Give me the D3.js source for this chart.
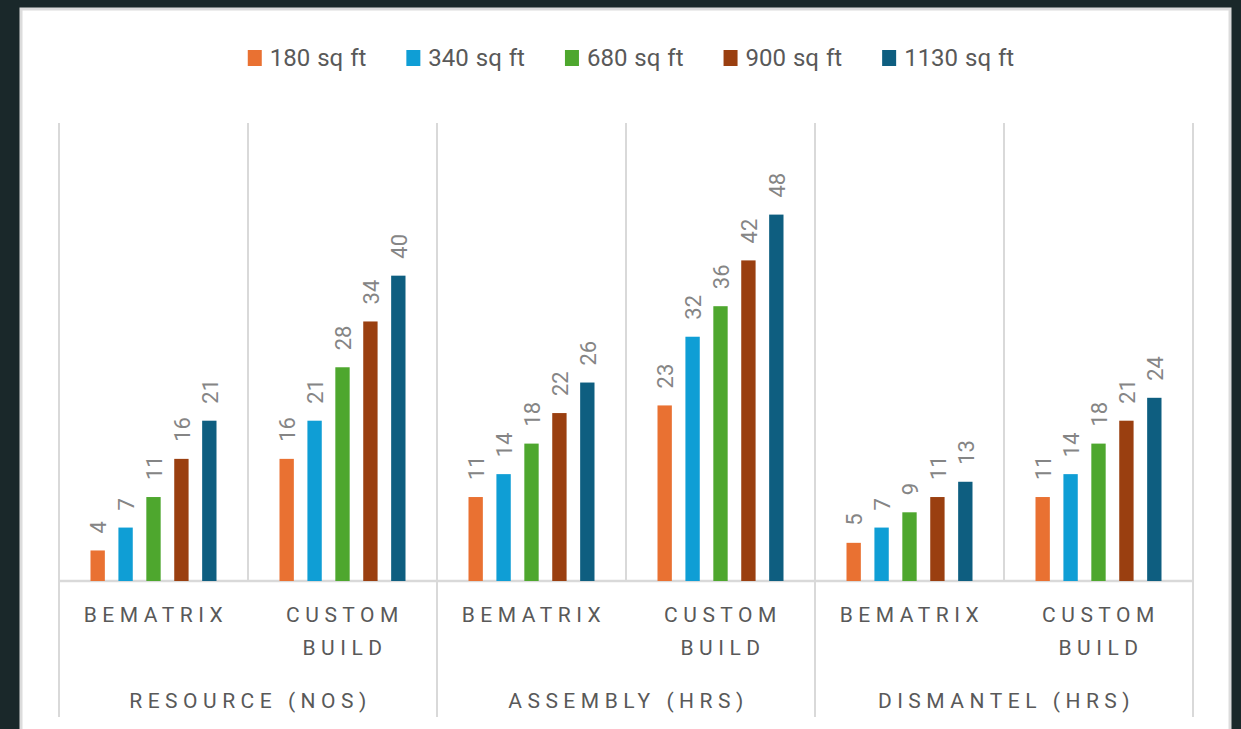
<!DOCTYPE html>
<html>
<head>
<meta charset="utf-8">
<script src="https://cdn.jsdelivr.net/npm/d3@7"></script>
<style>
  html, body { margin: 0; padding: 0; background: #1a282a; }
  svg { display: block; font-family: Roboto, "Noto Sans", sans-serif; }
</style>
</head>
<body>
<div id="chart"></div>
<script>
var width = 1241;
var height = 729;

var groups = ["RESOURCE (NOS)", "ASSEMBLY (HRS)", "DISMANTEL (HRS)"];
var types = ["BEMATRIX", "CUSTOM BUILD"];
var series = ["180 sq ft", "340 sq ft", "680 sq ft", "900 sq ft", "1130 sq ft"];
var colors = ["#e97132", "#0f9ed5", "#4ea72e", "#9a3f10", "#0e5e80"];

// one value per category: resource bm, resource custom, assembly bm, assembly custom, dismantel bm, dismantel custom
var s180 = [4, 16, 11, 23, 5, 11];
var s340 = [7, 21, 14, 32, 7, 14];
var s680 = [11, 28, 18, 36, 9, 18];
var s900 = [16, 34, 22, 42, 11, 21];
var s1130 = [21, 40, 26, 48, 13, 24];
var values = [s180, s340, s680, s900, s1130];

var yMax = 60;

var svg = d3.select("#chart")
  .append("svg")
  .attr("width", width)
  .attr("height", height);

// white panel
svg.append("rect")
  .attr("x", 21).attr("y", 9)
  .attr("width", 1209).attr("height", 740)
  .attr("fill", "#fff")
  .attr("stroke", "#dcdcdc")
  .attr("stroke-width", 3);

var cats = [];
groups.forEach(function(g, gi) {
  types.forEach(function(t, ti) {
    cats.push({ group: g, type: t, idx: gi * 2 + ti });
  });
});

var plotLeft = 59, plotRight = 1193, plotTop = 123, base = 581;

var x0 = d3.scaleBand()
  .domain(d3.range(cats.length))
  .range([plotLeft, plotRight])
  .padding(0);

var x1 = d3.scaleBand()
  .domain(d3.range(series.length))
  .range([31.5, x0.bandwidth() - 31.5])
  .paddingInner(0.486);

var y = d3.scaleLinear()
  .domain([0, yMax])
  .range([base, plotTop]);

// separators
var lines = svg.append("g");
d3.range(cats.length + 1).forEach(function(i) {
  var xx = i < cats.length ? x0(i) : plotRight;
  lines.append("line")
    .attr("x1", xx).attr("x2", xx)
    .attr("y1", plotTop)
    .attr("y2", i % 2 == 0 ? 717 : base)
    .attr("stroke", "#d9d9d9")
    .attr("stroke-width", 2);
});
lines.append("line")
  .attr("x1", plotLeft).attr("x2", plotRight)
  .attr("y1", base).attr("y2", base)
  .attr("stroke", "#d9d9d9")
  .attr("stroke-width", 2.5);

// bars
var catG = svg.selectAll(".cat")
  .data(cats)
  .enter()
  .append("g")
  .attr("transform", function(d) { return "translate(" + x0(d.idx) + ",0)"; });

catG.selectAll("rect")
  .data(function(d) {
    return series.map(function(s, si) { return { si: si, v: values[si][d.idx] }; });
  })
  .enter()
  .append("rect")
    .attr("x", function(d) { return x1(d.si); })
    .attr("y", function(d) { return y(d.v); })
    .attr("width", x1.bandwidth())
    .attr("height", function(d) { return base - y(d.v); })
    .attr("fill", function(d) { return colors[d.si]; });

catG.selectAll("text.val")
  .data(function(d) {
    return series.map(function(s, si) { return { si: si, v: values[si][d.idx] }; });
  })
  .enter()
  .append("text")
    .attr("class", "val")
    .text(function(d) { return d.v; })
    .attr("transform", function(d) {
      return "translate(" + (x1(d.si) + x1.bandwidth() / 2 + 1) + "," + (y(d.v) - 17) + ") rotate(-90)";
    })
    .attr("text-anchor", "start")
    .attr("dominant-baseline", "central")
    .attr("fill", "#858585")
    .attr("font-size", "22px");

// category labels
cats.forEach(function(c) {
  var words = c.type.split(" ");
  var t = svg.append("text")
    .attr("text-anchor", "middle")
    .attr("fill", "#595959")
    .attr("font-size", "21px")
    .attr("letter-spacing", "5.5px");
  words.forEach(function(w, wi) {
    t.append("tspan")
      .attr("x", x0(c.idx) + x0.bandwidth() / 2 + 2.5)
      .attr("y", 622 + wi * 33)
      .text(w);
  });
});

groups.forEach(function(g, gi) {
  svg.append("text")
    .attr("x", x0(gi * 2) + x0.bandwidth() + 2.5)
    .attr("y", 708)
    .attr("text-anchor", "middle")
    .attr("fill", "#595959")
    .attr("font-size", "21px")
    .attr("letter-spacing", "5.5px")
    .text(g);
});

// legend
var legend = svg.append("g");
var lx = 0;
series.forEach(function(s, i) {
  var item = legend.append("g").attr("transform", "translate(" + lx + ",0)");
  item.append("rect")
    .attr("x", 0).attr("y", 50)
    .attr("width", 14).attr("height", 16)
    .attr("fill", colors[i]);
  var t = item.append("text")
    .attr("x", 22).attr("y", 66)
    .attr("fill", "#595959")
    .attr("font-size", "24px")
    .attr("word-spacing", "1px")
    .text(s);
  lx += 22 + t.node().getComputedTextLength() + 40;
});
var lw = lx - 40;
legend.attr("transform", "translate(" + (631 - lw / 2) + ",0)");
</script>
</body>
</html>
